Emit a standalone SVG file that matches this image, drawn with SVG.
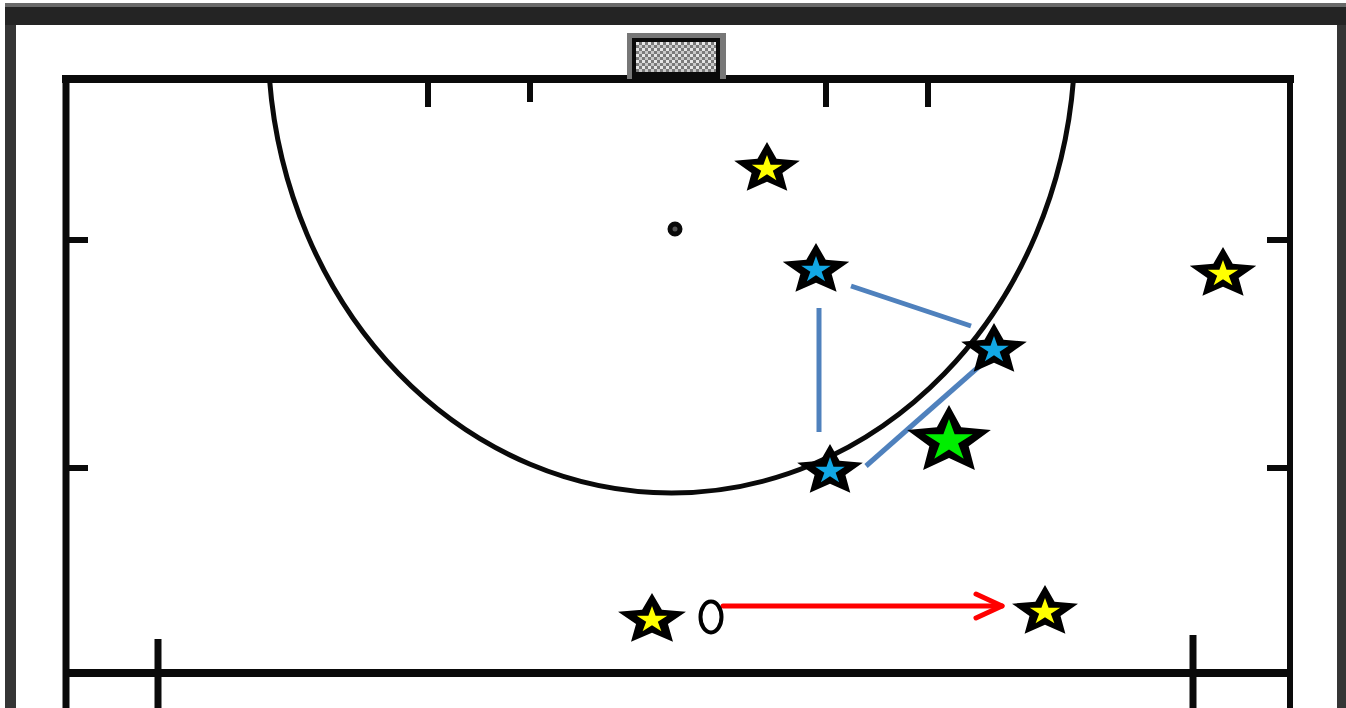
<svg xmlns="http://www.w3.org/2000/svg" xmlns:xlink="http://www.w3.org/1999/xlink" width="1346" height="708" viewBox="0 0 1346 708">
  <style>
    .ln { stroke: #0a0a0a; fill: none; }
    .edge { fill: #000; }
    .yel { fill: #ffff00; }
    .blu { fill: #12a8e6; }
    .grn { fill: #00ee00; }
    .pass { stroke: #4f81bd; stroke-width: 5; fill: none; }
    .run { stroke: #ff0000; stroke-width: 5; fill: none; stroke-linecap: round; }
  </style>
  <defs>
    <path id="star" d="M0,-1 L0.2245,-0.309 L0.951,-0.309 L0.3633,0.118 L0.5878,0.809 L0,0.382 L-0.5878,0.809 L-0.3633,0.118 L-0.951,-0.309 L-0.2245,-0.309 Z"/>
    <path id="starfat" d="M0,-1 L0.2763,-0.3802 L0.951,-0.309 L0.447,0.1452 L0.5878,0.809 L0,0.47 L-0.5878,0.809 L-0.447,0.1452 L-0.951,-0.309 L-0.2763,-0.3802 Z"/>
    <pattern id="net" width="6" height="6" patternUnits="userSpaceOnUse">
      <rect width="6" height="6" fill="#7a7a7a"/>
      <rect width="3" height="3" fill="#e6e6e6"/>
      <rect x="3" y="3" width="3" height="3" fill="#c8c8c8"/>
    </pattern>
    <marker id="chev" markerUnits="userSpaceOnUse" markerWidth="40" markerHeight="40" refX="0" refY="0" orient="auto" overflow="visible">
      <path d="M-26,-12 L0,0 L-26,12" fill="none" stroke="#ff0000" stroke-width="5" stroke-linecap="round" stroke-linejoin="round"/>
    </marker>
  </defs>

  <rect width="1346" height="708" fill="#ffffff"/>

  <!-- outer frame -->
  <rect x="5" y="3" width="1341" height="4" fill="#6a6a6a"/>
  <rect x="5" y="7" width="1341" height="18" fill="#242424"/>
  <rect x="5" y="25" width="11" height="683" fill="#353535"/>
  <rect x="1337" y="25" width="9" height="683" fill="#353535"/>

  <!-- field lines -->
  <g id="field">
    <line class="ln" x1="62" y1="79" x2="1294" y2="79" stroke-width="8"/>
    <line class="ln" x1="66" y1="75" x2="66" y2="708" stroke-width="7"/>
    <line class="ln" x1="1290" y1="75" x2="1290" y2="708" stroke-width="6"/>
    <line class="ln" x1="66" y1="673" x2="1290" y2="673" stroke-width="8"/>
    <line class="ln" x1="158" y1="639" x2="158" y2="708" stroke-width="7"/>
    <line class="ln" x1="1193" y1="635" x2="1193" y2="708" stroke-width="7"/>
    <line class="ln" x1="428" y1="79" x2="428" y2="107" stroke-width="6"/>
    <line class="ln" x1="530" y1="79" x2="530" y2="102" stroke-width="6"/>
    <line class="ln" x1="826" y1="79" x2="826" y2="107" stroke-width="6"/>
    <line class="ln" x1="928" y1="79" x2="928" y2="107" stroke-width="6"/>
    <line class="ln" x1="66" y1="240" x2="88" y2="240" stroke-width="6"/>
    <line class="ln" x1="66" y1="468" x2="88" y2="468" stroke-width="6"/>
    <line class="ln" x1="1267" y1="240" x2="1290" y2="240" stroke-width="6"/>
    <line class="ln" x1="1267" y1="468" x2="1290" y2="468" stroke-width="6"/>
    <path class="ln" d="M269.5,79 A403.5,453 0 0 0 1073.5,79" stroke-width="5"/>
    <circle cx="675" cy="229" r="5" fill="#555" stroke="#0a0a0a" stroke-width="5"/>
  </g>

  <!-- goal -->
  <g id="goal">
    <rect x="627" y="33" width="99" height="46" fill="#777"/>
    <rect x="632" y="38" width="88" height="41" fill="#0a0a0a"/>
    <rect x="636" y="42" width="80" height="30" fill="url(#net)"/>
  </g>

  <!-- connectors -->
  <g id="connectors">
    <line class="pass" x1="819" y1="308" x2="819" y2="432"/>
    <line class="pass" x1="851" y1="286" x2="971" y2="326"/>
    <line class="pass" x1="866" y1="466" x2="983" y2="363"/>
    <line class="run" x1="723" y1="606" x2="1002" y2="606" marker-end="url(#chev)"/>
  </g>

  <!-- players -->
  <g id="yellow1">
    <use xlink:href="#starfat" class="edge" transform="translate(767,169) scale(34.5,27)"/>
    <use xlink:href="#star" class="yel" transform="translate(767,169) scale(16,14)"/>
  </g>
  <g id="yellow2">
    <use xlink:href="#starfat" class="edge" transform="translate(1223,274) scale(35,27)"/>
    <use xlink:href="#star" class="yel" transform="translate(1223,274) scale(16,14)"/>
  </g>
  <g id="yellow3">
    <use xlink:href="#starfat" class="edge" transform="translate(652,620) scale(35.7,27)"/>
    <use xlink:href="#star" class="yel" transform="translate(652,620) scale(16,14)"/>
  </g>
  <g id="yellow4">
    <use xlink:href="#starfat" class="edge" transform="translate(1045,612) scale(34.7,27)"/>
    <use xlink:href="#star" class="yel" transform="translate(1045,612) scale(16,14)"/>
  </g>
  <g id="blue1">
    <use xlink:href="#starfat" class="edge" transform="translate(816,270) scale(35,27)"/>
    <use xlink:href="#star" class="blu" transform="translate(816,270) scale(15.5,14)"/>
  </g>
  <g id="blue2">
    <use xlink:href="#starfat" class="edge" transform="translate(994,350) scale(34.5,27)"/>
    <use xlink:href="#star" class="blu" transform="translate(994,350) scale(15.5,14)"/>
  </g>
  <g id="blue3">
    <use xlink:href="#starfat" class="edge" transform="translate(830,471) scale(34.5,27)"/>
    <use xlink:href="#star" class="blu" transform="translate(830,471) scale(15.5,14)"/>
  </g>
  <g id="green1">
    <use xlink:href="#starfat" class="edge" transform="translate(949,441) scale(44,36)"/>
    <use xlink:href="#star" class="grn" transform="translate(949,441) scale(25,22)"/>
  </g>
  <g id="ball">
    <ellipse cx="711" cy="617" rx="10.5" ry="15.5" fill="#fff" stroke="#000" stroke-width="4"/>
  </g>
</svg>
